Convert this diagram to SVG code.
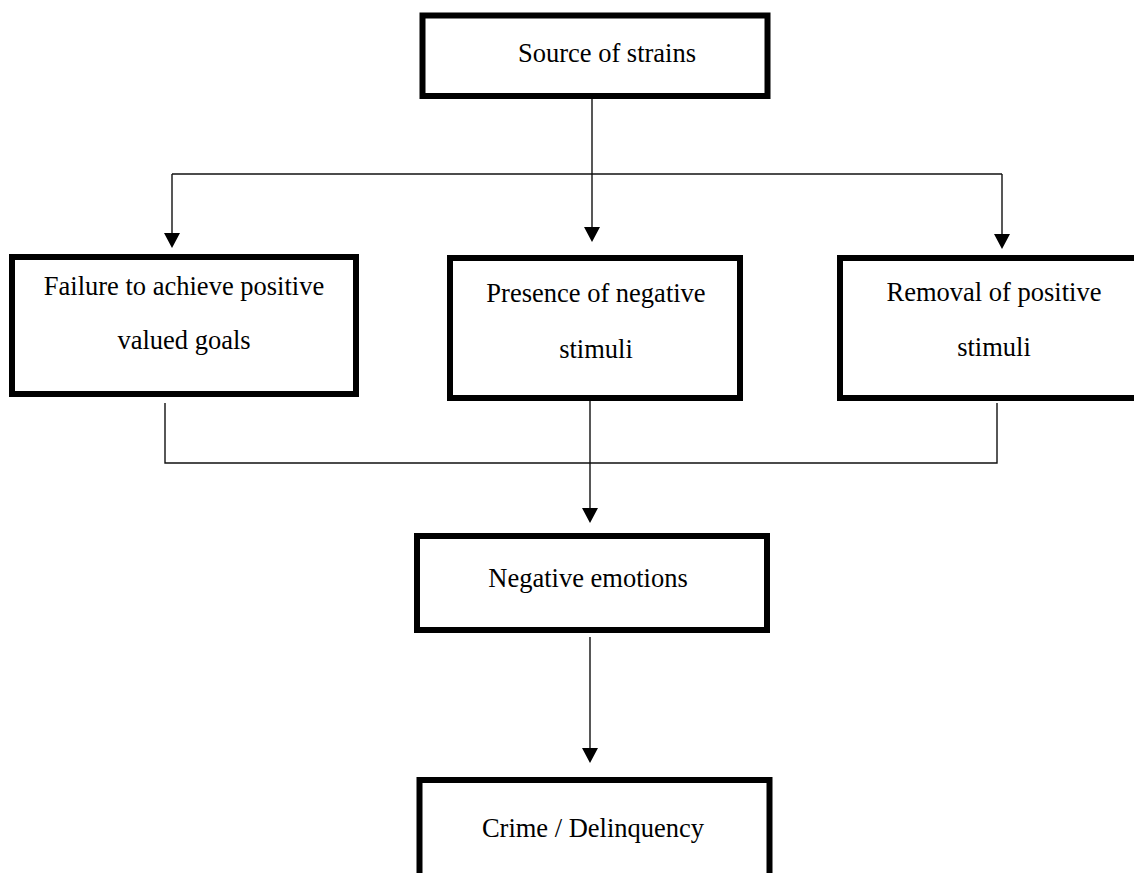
<svg xmlns="http://www.w3.org/2000/svg" width="1134" height="873" viewBox="0 0 1134 873">
<style>
.box{fill:#fff;stroke:#000;stroke-width:6}
.lbl{font-family:"Liberation Serif","Times New Roman",serif;font-size:26.5px;fill:#000;text-anchor:middle}
.con{fill:none;stroke:#111;stroke-width:1.4}
.head{fill:#000}
</style>
<rect width="1134" height="873" fill="#fff"/>
<g id="connectors">
<path class="con" d="M592,99 V174"/>
<path class="con" d="M172,174 H1002"/>
<path class="con" d="M172,174 V233"/>
<path class="con" d="M592,174 V227"/>
<path class="con" d="M1002,174 V234"/>
<path class="head" d="M164,233 L180,233 L172,248 Z"/>
<path class="head" d="M584,227 L600,227 L592,242 Z"/>
<path class="head" d="M994,234 L1010,234 L1002,249 Z"/>
<path class="con" d="M165,403 V463 H997 V403"/>
<path class="con" d="M590,401 V508"/>
<path class="head" d="M582,508 L598,508 L590,523 Z"/>
<path class="con" d="M590,637 V748"/>
<path class="head" d="M582,748 L598,748 L590,763 Z"/>
</g>
<g id="source">
<rect class="box" x="422.5" y="15.5" width="345" height="80.5" stroke-width="5.5"/>
<text class="lbl" x="607" y="62">Source of strains</text>
</g>
<g id="failure">
<rect class="box" x="12" y="257" width="344" height="137"/>
<text class="lbl" x="184" y="295">Failure to achieve positive</text>
<text class="lbl" x="184" y="349">valued goals</text>
</g>
<g id="presence">
<rect class="box" x="450" y="258" width="290" height="140"/>
<text class="lbl" x="596" y="302">Presence of negative</text>
<text class="lbl" x="596" y="358">stimuli</text>
</g>
<g id="removal">
<rect class="box" x="840" y="258" width="320" height="140"/>
<text class="lbl" x="994" y="301">Removal of positive</text>
<text class="lbl" x="994" y="356">stimuli</text>
</g>
<g id="negative">
<rect class="box" x="417" y="536" width="350" height="94"/>
<text class="lbl" x="588" y="587">Negative emotions</text>
</g>
<g id="crime">
<rect class="box" x="419.5" y="780" width="350" height="120"/>
<text class="lbl" x="593" y="837">Crime / Delinquency</text>
</g>
</svg>
